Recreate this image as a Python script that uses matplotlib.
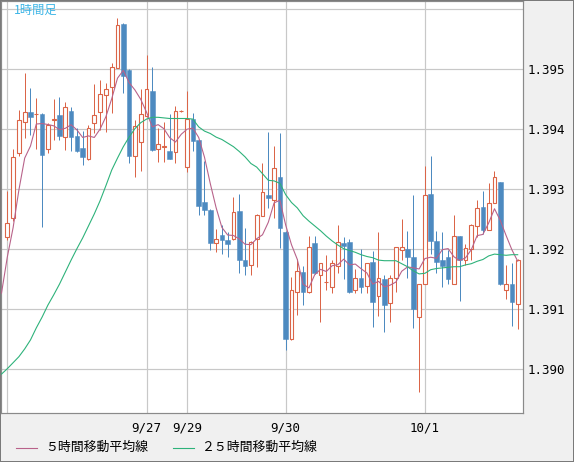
import numpy as np
import pandas as pd
import matplotlib
matplotlib.use("Agg")
import matplotlib.pyplot as plt
from matplotlib.patches import Rectangle
from matplotlib.lines import Line2D

W, H = 574, 462

# ----------- hourly bars -----------
opens = [1.39220, 1.39252, 1.39361, 1.39412, 1.39428, 1.39425, 1.39426, 1.39368, 1.39416, 1.39424,
         1.39387, 1.39431, 1.39389, 1.39369, 1.39350, 1.39411, 1.39429, 1.39458, 1.39470, 1.39503,
         1.39575, 1.39499, 1.39356, 1.39379, 1.39422, 1.39464, 1.39367, 1.39371, 1.39364, 1.39363,
         1.39430, 1.39337, 1.39417, 1.39382, 1.39279, 1.39266, 1.39211, 1.39224, 1.39216, 1.39217,
         1.39264, 1.39182, 1.39174, 1.39217, 1.39256, 1.39290, 1.39282, 1.39320, 1.39229, 1.39050,
         1.39129, 1.39162, 1.39129, 1.39210, 1.39158, 1.39145, 1.39137, 1.39172, 1.39210, 1.39212,
         1.39132, 1.39153, 1.39139, 1.39178, 1.39123, 1.39150, 1.39110, 1.39153, 1.39199, 1.39201,
         1.39188, 1.39087, 1.39143, 1.39293, 1.39214, 1.39182, 1.39187, 1.39143, 1.39222, 1.39182,
         1.39200, 1.39239, 1.39271, 1.39233, 1.39278, 1.39312, 1.39133, 1.39142, 1.39109]
highs = [1.39297, 1.39368, 1.39432, 1.39494, 1.39469, 1.39453, 1.39427, 1.39411, 1.39451, 1.39454,
         1.39445, 1.39438, 1.39403, 1.39397, 1.39407, 1.39476, 1.39482, 1.39477, 1.39511, 1.39586,
         1.39577, 1.39500, 1.39416, 1.39467, 1.39524, 1.39504, 1.39403, 1.39413, 1.39426, 1.39439,
         1.39432, 1.39464, 1.39427, 1.39383, 1.39347, 1.39268, 1.39234, 1.39241, 1.39229, 1.39287,
         1.39292, 1.39235, 1.39214, 1.39259, 1.39344, 1.39396, 1.39373, 1.39394, 1.39230, 1.39154,
         1.39184, 1.39173, 1.39222, 1.39222, 1.39178, 1.39191, 1.39182, 1.39241, 1.39220, 1.39218,
         1.39168, 1.39200, 1.39178, 1.39197, 1.39229, 1.39157, 1.39157, 1.39204, 1.39251, 1.39231,
         1.39290, 1.39143, 1.39339, 1.39356, 1.39231, 1.39229, 1.39199, 1.39257, 1.39223, 1.39209,
         1.39242, 1.39282, 1.39298, 1.39310, 1.39331, 1.39313, 1.39174, 1.39177, 1.39184]
lows = [1.39215, 1.39247, 1.39355, 1.39385, 1.39391, 1.39367, 1.39238, 1.39361, 1.39382, 1.39382,
        1.39365, 1.39364, 1.39362, 1.39340, 1.39349, 1.39394, 1.39399, 1.39396, 1.39427, 1.39502,
        1.39461, 1.39344, 1.39321, 1.39331, 1.39420, 1.39364, 1.39346, 1.39346, 1.39350, 1.39344,
        1.39429, 1.39329, 1.39364, 1.39257, 1.39257, 1.39199, 1.39196, 1.39192, 1.39188, 1.39215,
        1.39161, 1.39157, 1.39157, 1.39170, 1.39255, 1.39269, 1.39253, 1.39203, 1.39032, 1.39049,
        1.39091, 1.39107, 1.39128, 1.39159, 1.39079, 1.39133, 1.39128, 1.39161, 1.39151, 1.39128,
        1.39128, 1.39128, 1.39128, 1.39071, 1.39089, 1.39063, 1.39079, 1.39129, 1.39182, 1.39153,
        1.39069, 1.38963, 1.39142, 1.39192, 1.39160, 1.39137, 1.39143, 1.39142, 1.39114, 1.39174,
        1.39182, 1.39220, 1.39226, 1.39232, 1.39277, 1.39141, 1.39118, 1.39072, 1.39068]
closes = [1.39243, 1.39354, 1.39415, 1.39428, 1.39421, 1.39426, 1.39358, 1.39407, 1.39417, 1.39389,
          1.39437, 1.39388, 1.39364, 1.39354, 1.39402, 1.39424, 1.39458, 1.39467, 1.39503, 1.39574,
          1.39489, 1.39356, 1.39406, 1.39425, 1.39467, 1.39366, 1.39375, 1.39372, 1.39350, 1.39431,
          1.39431, 1.39417, 1.39381, 1.39272, 1.39266, 1.39211, 1.39217, 1.39216, 1.39209, 1.39262,
          1.39182, 1.39173, 1.39213, 1.39258, 1.39295, 1.39286, 1.39335, 1.39235, 1.39050, 1.39132,
          1.39164, 1.39129, 1.39203, 1.39160, 1.39177, 1.39146, 1.39177, 1.39212, 1.39206, 1.39129,
          1.39153, 1.39138, 1.39177, 1.39113, 1.39152, 1.39107, 1.39152, 1.39203, 1.39203, 1.39188,
          1.39100, 1.39142, 1.39290, 1.39214, 1.39179, 1.39172, 1.39151, 1.39222, 1.39182, 1.39202,
          1.39240, 1.39268, 1.39232, 1.39278, 1.39320, 1.39142, 1.39143, 1.39113, 1.39183]

# 5h MA needs closes before the frame: first values (bar -1 .. 3)
ma5_head = [1.39127, 1.39187, 1.39236, 1.39299, 1.39352]
# 25h MA, starting at bar -1 (just left of the frame)
ma25 = [1.38992, 1.39001, 1.39011, 1.39021, 1.39034, 1.39049, 1.39069, 1.39087, 1.39107, 1.39124,
        1.39142, 1.39162, 1.39182, 1.39201, 1.39219, 1.39239, 1.39259, 1.39281, 1.39306, 1.39332,
        1.39352, 1.39371, 1.39387, 1.39401, 1.39411, 1.39417, 1.39420, 1.39420, 1.39419, 1.39418,
        1.39418, 1.39418, 1.39418, 1.39417, 1.39404, 1.39397, 1.39393, 1.39387, 1.39383, 1.39377,
        1.39371, 1.39363, 1.39354, 1.39343, 1.39337, 1.39326, 1.39315, 1.39314, 1.39310, 1.39291,
        1.39278, 1.39269, 1.39256, 1.39247, 1.39239, 1.39231, 1.39222, 1.39214, 1.39207, 1.39201,
        1.39198, 1.39195, 1.39191, 1.39188, 1.39186, 1.39182, 1.39181, 1.39181, 1.39181, 1.39176,
        1.39171, 1.39164, 1.39159, 1.39160, 1.39166, 1.39168, 1.39169, 1.39170, 1.39171, 1.39171,
        1.39174, 1.39176, 1.39180, 1.39183, 1.39189, 1.39192, 1.39191, 1.39190, 1.39191, 1.39191]

date_ticks = [0, 24, 31, 48, 72]
date_labels = ["", "9/27", "9/29", "9/30", "10/1"]
price_ticks = [1.390, 1.391, 1.392, 1.393, 1.394, 1.395, 1.396]
price_labels = ["1.390", "1.391", "1.392", "1.393", "1.394", "1.395", ""]

UP_COLOR = "#db6548"
DOWN_COLOR = "#4d8ac0"
MA5_COLOR = "#b8628a"
MA25_COLOR = "#2db27a"
GRID_COLOR = "#c8c8c8"
PX = 72 / 100  # one pixel in points


def fx(x):
    return x / W


def fy(y):
    return 1 - y / H


# ----------- figure -----------
fig = plt.figure(figsize=(W / 100, H / 100), dpi=100, facecolor="#f0f0f0")
ax = fig.add_axes([fx(1), fy(413), fx(523) - fx(1), fy(1) - fy(413)], facecolor="white")

n = len(closes)
idx = np.arange(n)

# wicks then bodies (hollow up bars, filled down bars)
for i in range(n):
    o, h, l, c = opens[i], highs[i], lows[i], closes[i]
    up = c >= o
    col = UP_COLOR if up else DOWN_COLOR
    ax.vlines(i, l, h, color=col, lw=PX, zorder=3)
    bottom = min(o, c)
    height = max(abs(c - o), 0.000001)
    if up:
        w = 0.64
        ax.add_patch(Rectangle((i - w / 2, bottom), w, height, facecolor="white",
                               edgecolor=col, lw=PX * 1.1, zorder=4))
    else:
        w = 0.8
        ax.add_patch(Rectangle((i - w / 2, bottom), w, height, facecolor=col,
                               edgecolor=col, lw=PX * 0.5, zorder=4))

# moving averages
ma5 = pd.Series(closes).rolling(5).mean().to_numpy()
ma5[:4] = ma5_head[1:]
ma5_x = np.concatenate([[-1], idx])
ma5_y = np.concatenate([[ma5_head[0]], ma5])
ax.plot(ma5_x, ma5_y, color=MA5_COLOR, lw=PX * 1.1, zorder=5)
ax.plot(np.arange(-1, n), ma25, color=MA25_COLOR, lw=PX * 1.1, zorder=5)

ax.set_xlim((1 - 7.3) / 5.8, (523 - 7.3) / 5.8)
ax.set_ylim(1.396155 - 413 / 60000, 1.396155 - 1 / 60000)

ax.set_xticks(date_ticks)
ax.set_xticklabels(date_labels, family="DejaVu Sans Mono", fontsize=9)
ax.yaxis.tick_right()
ax.set_yticks(price_ticks)
ax.set_yticklabels(price_labels, family="DejaVu Sans Mono", fontsize=9)
ax.tick_params(axis="both", length=0, colors="black")
ax.tick_params(axis="x", pad=6)
ax.tick_params(axis="y", pad=3)
ax.grid(True, color=GRID_COLOR, lw=PX * 1.2, zorder=0)
ax.set_axisbelow(True)
for s in ax.spines.values():
    s.set_color("#8a8a8a")
    s.set_linewidth(PX * 1.2)

# caption in the top-left corner
fig.text(fx(14), fy(10), "1時間足", color="#3db5e6", fontsize=8.8,
         family=["Noto Sans CJK JP", "DejaVu Sans"], va="center", ha="left")

# legend drawn by hand below the axis labels
fig.lines.append(Line2D([fx(16), fx(37)], [fy(447.5), fy(447.5)], transform=fig.transFigure,
                        color=MA5_COLOR, lw=PX * 1.1))
fig.text(fx(45), fy(447.5), "５時間移動平均線", fontsize=9.3,
         family=["Noto Sans CJK JP", "DejaVu Sans"], va="center", ha="left")
fig.lines.append(Line2D([fx(173), fx(194)], [fy(447.5), fy(447.5)], transform=fig.transFigure,
                        color=MA25_COLOR, lw=PX * 1.1))
fig.text(fx(201), fy(447.5), "２５時間移動平均線", fontsize=9.3,
         family=["Noto Sans CJK JP", "DejaVu Sans"], va="center", ha="left")

# outer frame
fig.patches.append(Rectangle((0, 0), 1, 1, transform=fig.transFigure, fill=False,
                             edgecolor="#7a7a7a", lw=PX * 2))

fig.savefig("out.png", dpi=100, facecolor=fig.get_facecolor())
